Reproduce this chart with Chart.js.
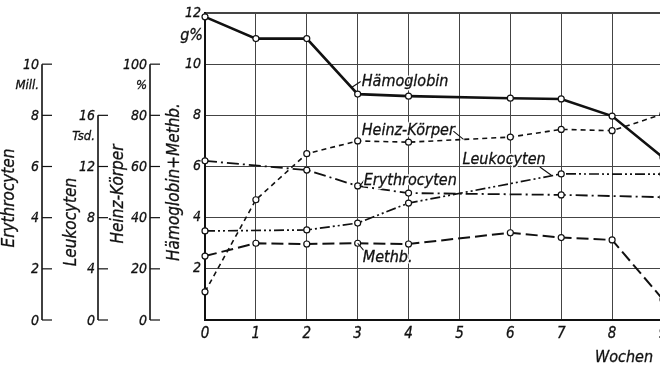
<!DOCTYPE html>
<html><head><meta charset="utf-8">
<script src="https://cdn.jsdelivr.net/npm/chart.js@4.4.1/dist/chart.umd.min.js"></script>
<style>html,body{margin:0;padding:0;background:#fff;overflow:hidden;}#wrap{width:680px;height:366px;}</style>
</head><body><div id="wrap"><canvas id="c" width="680" height="366"></canvas></div>
<script>
// ---- data ----
const weekLabels = ['0','1','2','3','4','5','6','7','8','9'];
const haemoglobin  = [11.85, 11.0, 11.0, 8.83, 8.75, null, 8.67, 8.64, 7.97, 6.35]; // g%
const methb        = [2.5, 3.0, 2.97, 3.0, 2.97, null, 3.41, 3.22, 3.13, 0.8];      // g%
const heinzKoerper = [11, 47, 65, 70, 69.5, null, 71.5, 74.5, 74, 80.5];            // %
const erythrocyten = [6.22, null, 5.86, 5.24, 4.96, null, null, 4.89, null, 4.8];   // Mill.
const leukocyten   = [6.96, null, 7.04, 7.58, 9.14, null, null, 11.42, null, 11.4]; // Tsd.
const hbTicks      = [0, 2, 4, 6, 8, 10, 12];
const erythroTicks = [0, 2, 4, 6, 8, 10];
const leukoTicks   = [0, 4, 8, 12, 16];
const heinzTicks   = [0, 20, 40, 60, 80, 100];
const seriesNames = ['Hämoglobin', 'Heinz-Körper', 'Leukocyten', 'Erythrocyten', 'Methb.'];

// ---- styling ----
const FAM = '"DejaVu Sans Condensed","DejaVu Sans",sans-serif';
const F = s => `italic ${s}px ${FAM}`;
const INK = '#111';
const SW = 0.3;

function ds(label, data, axis, dash, width, order) {
  return {
    label, data, yAxisID: axis, borderColor: INK, borderWidth: width, borderDash: dash,
    pointRadius: 3, pointBackgroundColor: '#fff', pointBorderColor: INK, pointBorderWidth: 1.2,
    spanGaps: true, tension: 0, fill: false, order
  };
}

const sideAxes = [
  {id: 'yE', x: 42,  ticks: erythroTicks, unit: 'Mill.', title: 'Erythrocyten', tx: 10,  ty: 198},
  {id: 'yL', x: 98,  ticks: leukoTicks,   unit: 'Tsd.',  title: 'Leukocyten',   tx: 72,  ty: 222},
  {id: 'yH', x: 150, ticks: heinzTicks,   unit: '%',     title: 'Heinz-Körper', tx: 119, ty: 194},
];

function txt(ctx, s, x, y) {
  ctx.save();
  ctx.lineWidth = SW; ctx.strokeStyle = INK;
  ctx.strokeText(s, x, y);
  ctx.fillText(s, x, y);
  ctx.restore();
}

const annot = {
  id: 'annot',
  afterDraw(chart) {
    const ctx = chart.ctx;
    const xs = chart.scales.x, ys = chart.scales.y;
    const px = v => xs.getPixelForValue(0) + (xs.getPixelForValue(9) - xs.getPixelForValue(0)) * v / 9;
    const py = v => ys.getPixelForValue(v);
    ctx.save();
    ctx.fillStyle = INK; ctx.strokeStyle = INK;
    // side axes
    sideAxes.forEach(a => {
      const sc = chart.scales[a.id];
      const top = sc.getPixelForValue(a.ticks[a.ticks.length - 1]);
      const bot = sc.getPixelForValue(0);
      ctx.lineWidth = 1.6;
      ctx.beginPath(); ctx.moveTo(a.x, bot); ctx.lineTo(a.x, top); ctx.stroke();
      ctx.lineWidth = 1.2;
      ctx.font = F(14); ctx.textAlign = 'right'; ctx.textBaseline = 'middle';
      a.ticks.forEach(t => {
        const y = sc.getPixelForValue(t);
        ctx.beginPath(); ctx.moveTo(a.x, y); ctx.lineTo(a.x + 10, y); ctx.stroke();
        txt(ctx, String(t), a.x - 3, y + 1);
      });
      ctx.font = F(13);
      txt(ctx, a.unit, a.x - 3, top + 21);
      ctx.save();
      ctx.translate(a.tx, a.ty); ctx.rotate(-Math.PI / 2);
      ctx.font = F(17); ctx.textAlign = 'center'; ctx.textBaseline = 'middle';
      txt(ctx, a.title, 0, 0);
      ctx.restore();
    });
    // main axis unit + title
    ctx.font = F(16); ctx.textAlign = 'right'; ctx.textBaseline = 'middle';
    txt(ctx, 'g%', chart.chartArea.left - 2, py(12) + 23);
    ctx.save();
    ctx.translate(175, 182); ctx.rotate(-Math.PI / 2);
    ctx.font = F(17); ctx.textAlign = 'center'; ctx.textBaseline = 'middle';
    txt(ctx, 'Hämoglobin+Methb.', 0, 0);
    ctx.restore();
    // x title
    ctx.font = F(16); ctx.textAlign = 'right'; ctx.textBaseline = 'alphabetic';
    txt(ctx, 'Wochen', chart.chartArea.right - 10, 362);
    // series labels with leaders
    const labs = [
      {t: seriesNames[0], x: 3.08, y: 9.15, l: [2.88, 9.09, 3.06, 9.32]},
      {t: seriesNames[1], x: 3.08, y: 7.23, l: [4.88, 7.38, 5.08, 7.06]},
      {t: seriesNames[2], x: 5.06, y: 6.1,  l: [6.58, 5.98, 6.82, 5.64]},
      {t: seriesNames[3], x: 3.12, y: 5.28, l: [3.04, 5.23, 3.13, 5.47]},
      {t: seriesNames[4], x: 3.1,  y: 2.28, l: [3.0, 3.0, 3.12, 2.72]},
    ];
    ctx.font = F(16); ctx.textAlign = 'left'; ctx.textBaseline = 'alphabetic';
    ctx.lineJoin = 'round';
    labs.forEach(o => {
      ctx.lineWidth = 1.1; ctx.strokeStyle = INK;
      ctx.beginPath(); ctx.moveTo(px(o.l[0]), py(o.l[1])); ctx.lineTo(px(o.l[2]), py(o.l[3])); ctx.stroke();
      ctx.lineWidth = 3; ctx.strokeStyle = '#fff';
      ctx.strokeText(o.t, px(o.x), py(o.y));
      txt(ctx, o.t, px(o.x), py(o.y));
    });
    ctx.restore();
  }
};

const gridColor = '#444';
const tickFont = s => ({family: FAM, size: s, style: 'italic'});
new Chart(document.getElementById('c'), {
  type: 'line',
  data: {
    labels: weekLabels,
    datasets: [
      ds('Hämoglobin', haemoglobin, 'y', [], 2.6, 1),
      ds('Heinz-Körper', heinzKoerper, 'yH', [5, 4], 1.6, 2),
      ds('Erythrocyten', erythrocyten, 'yE', [12, 4, 2, 4], 1.8, 3),
      ds('Leukocyten', leukocyten, 'yL', [10, 3, 2, 3, 2, 3], 1.7, 4),
      ds('Methb.', methb, 'y', [12, 5], 2.0, 5),
    ]
  },
  options: {
    responsive: false, animation: false, devicePixelRatio: 1,
    layout: {padding: {top: 13, right: 17, left: 0, bottom: 0}},
    plugins: {legend: {display: false}, tooltip: {enabled: false}},
    scales: {
      x: {
        type: 'category', offset: false,
        grid: {color: gridColor, lineWidth: 1, drawTicks: false},
        border: {color: INK, width: 2},
        ticks: {color: INK, font: tickFont(15), padding: 5, maxRotation: 0, autoSkip: false,
                textStrokeColor: INK, textStrokeWidth: SW},
        afterFit: s => { s.height = 46; }
      },
      y: {
        min: 0, max: 12,
        afterBuildTicks: s => { s.ticks = hbTicks.map(v => ({value: v})); },
        grid: {color: gridColor, lineWidth: c => (c.tick && c.tick.value === 12 ? 2 : 1), drawTicks: false},
        border: {color: INK, width: 2},
        ticks: {color: INK, font: tickFont(14), padding: 4,
                textStrokeColor: INK, textStrokeWidth: SW,
                callback: v => (v === 0 ? '' : String(v))},
        afterFit: s => { s.width = 205; }
      },
      yE: {display: false, min: 0, max: 12},
      yL: {display: false, min: 0, max: 24},
      yH: {display: false, min: 0, max: 120}
    }
  },
  plugins: [annot]
});
</script>
</body></html>
